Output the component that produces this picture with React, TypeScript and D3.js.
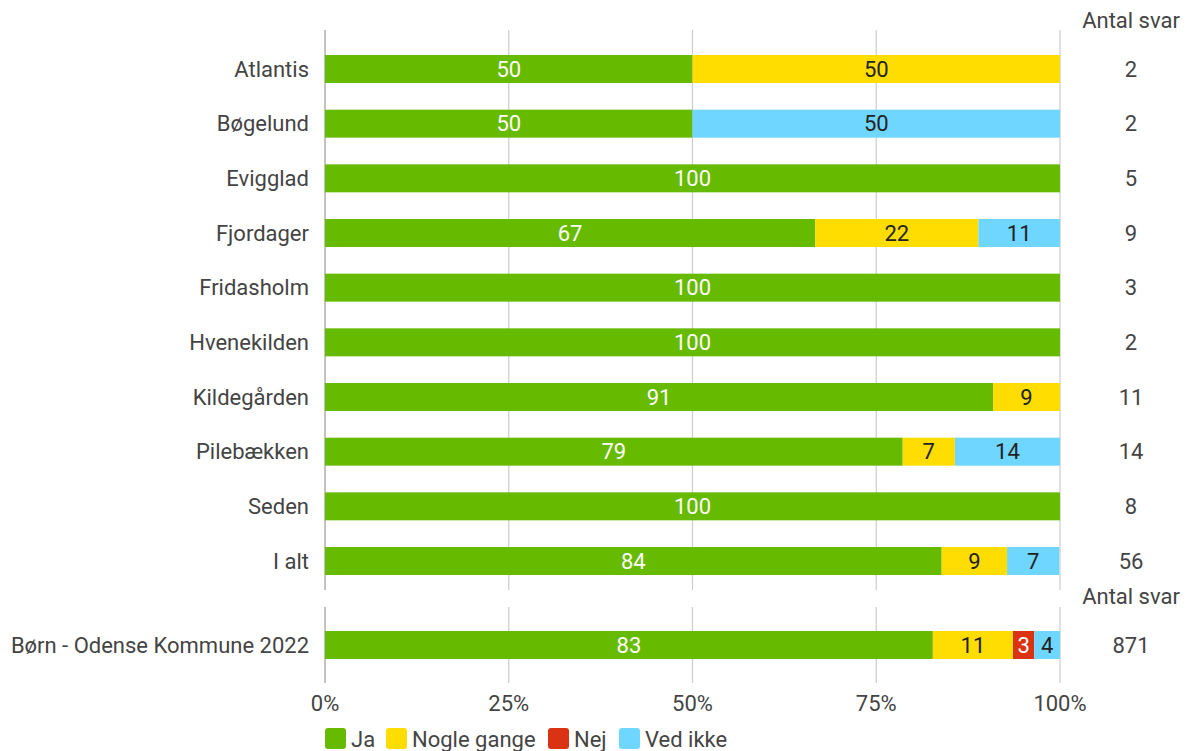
import React from 'react';
import * as d3 from 'd3';

const categories = ['Atlantis', 'Bøgelund', 'Evigglad', 'Fjordager', 'Fridasholm', 'Hvenekilden', 'Kildegården', 'Pilebækken', 'Seden', 'I alt'];
const ja = [50, 50, 100, 66.7, 100, 100, 90.9, 78.6, 100, 83.9];
const nogleGange = [50, 0, 0, 22.2, 0, 0, 9.1, 7.1, 0, 8.9];
const nej = [0, 0, 0, 0, 0, 0, 0, 0, 0, 0];
const vedIkke = [0, 50, 0, 11.1, 0, 0, 0, 14.3, 0, 7.1];
const antalSvar = [2, 2, 5, 9, 3, 2, 11, 14, 8, 56];

const compareLabel = 'Børn - Odense Kommune 2022';
const compareValues = [82.7, 10.9, 2.9, 3.5];
const compareAntal = 871;

const seriesNames = ['Ja', 'Nogle gange', 'Nej', 'Ved ikke'];
const seriesColors = ['#66bb00', '#ffdd00', '#d93314', '#6fd6ff'];
const labelColors = ['#ffffff', '#222222', '#ffffff', '#222222'];
const ticks = [0, 25, 50, 75, 100];

const W = 1191;
const H = 751;
const FONT = 'Roboto, sans-serif';
const TXT = '#444';
const FS = 22;

const App = () => {
  const x = d3.scaleLinear().domain([0, 100]).range([325, 1060]);
  const y = d3.scalePoint<string>().domain(categories).range([69, 561]);
  const barH = 28;
  const yCompare = 645;
  const countX = 1131;

  const stackRow = (vals: number[], cy: number, key: string) => {
    let acc = 0;
    return vals.map((v, i) => {
      const x0 = acc;
      acc += v;
      if (v <= 0) return null;
      const xa = x(x0);
      const xb = x(x0 + v);
      return (
        <g key={`${key}-${i}`}>
          <rect x={xa} y={cy - barH / 2} width={xb - xa} height={barH} fill={seriesColors[i]} />
          <text
            x={(xa + xb) / 2}
            y={cy}
            dy="0.35em"
            textAnchor="middle"
            fontSize={FS}
            fill={labelColors[i]}
          >
            {Math.round(v)}
          </text>
        </g>
      );
    });
  };

  const rows = categories.map((c, r) => [ja[r], nogleGange[r], nej[r], vedIkke[r]]);

  const legendX = [325, 386, 548, 619];

  return (
    <svg width={W} height={H} style={{ position: 'absolute', left: 0, top: 0 }} fontFamily={FONT}>
      <rect width={W} height={H} fill="#fff" />
      {/* gridlines */}
      {ticks.map((t) => (
        <g key={t}>
          <line x1={x(t)} x2={x(t)} y1={30} y2={590} stroke={t === 0 ? '#999' : '#ccc'} strokeWidth={1.2} />
          <line x1={x(t)} x2={x(t)} y1={607} y2={683} stroke={t === 0 ? '#999' : '#ccc'} strokeWidth={1.2} />
          <text x={x(t)} y={703} dy="0.35em" textAnchor="middle" fontSize={FS} fill={TXT}>
            {t}%
          </text>
        </g>
      ))}

      {/* top bars */}
      {categories.map((c, r) => (
        <g key={c}>
          <text x={309} y={y(c)!} dy="0.35em" textAnchor="end" fontSize={FS} fill={TXT}>
            {c}
          </text>
          {stackRow(rows[r], y(c)!, c)}
          <text x={countX} y={y(c)!} dy="0.35em" textAnchor="middle" fontSize={FS} fill={TXT}>
            {antalSvar[r]}
          </text>
        </g>
      ))}
      <text x={countX} y={20} dy="0.35em" textAnchor="middle" fontSize={FS} fill={TXT}>
        Antal svar
      </text>

      {/* comparison */}
      <text x={countX} y={596} dy="0.35em" textAnchor="middle" fontSize={FS} fill={TXT}>
        Antal svar
      </text>
      <text x={309} y={yCompare} dy="0.35em" textAnchor="end" fontSize={FS} fill={TXT}>
        {compareLabel}
      </text>
      {stackRow(compareValues, yCompare, 'cmp')}
      <text x={countX} y={yCompare} dy="0.35em" textAnchor="middle" fontSize={FS} fill={TXT}>
        {compareAntal}
      </text>

      {/* legend */}
      {seriesNames.map((n, i) => (
        <g key={n} transform={`translate(${legendX[i]},739)`}>
          <rect x={0} y={-11} width={21} height={21} rx={3} fill={seriesColors[i]} />
          <text x={26} y={0} dy="0.35em" fontSize={FS} fill={TXT}>
            {n}
          </text>
        </g>
      ))}
    </svg>
  );
};

export default App;
